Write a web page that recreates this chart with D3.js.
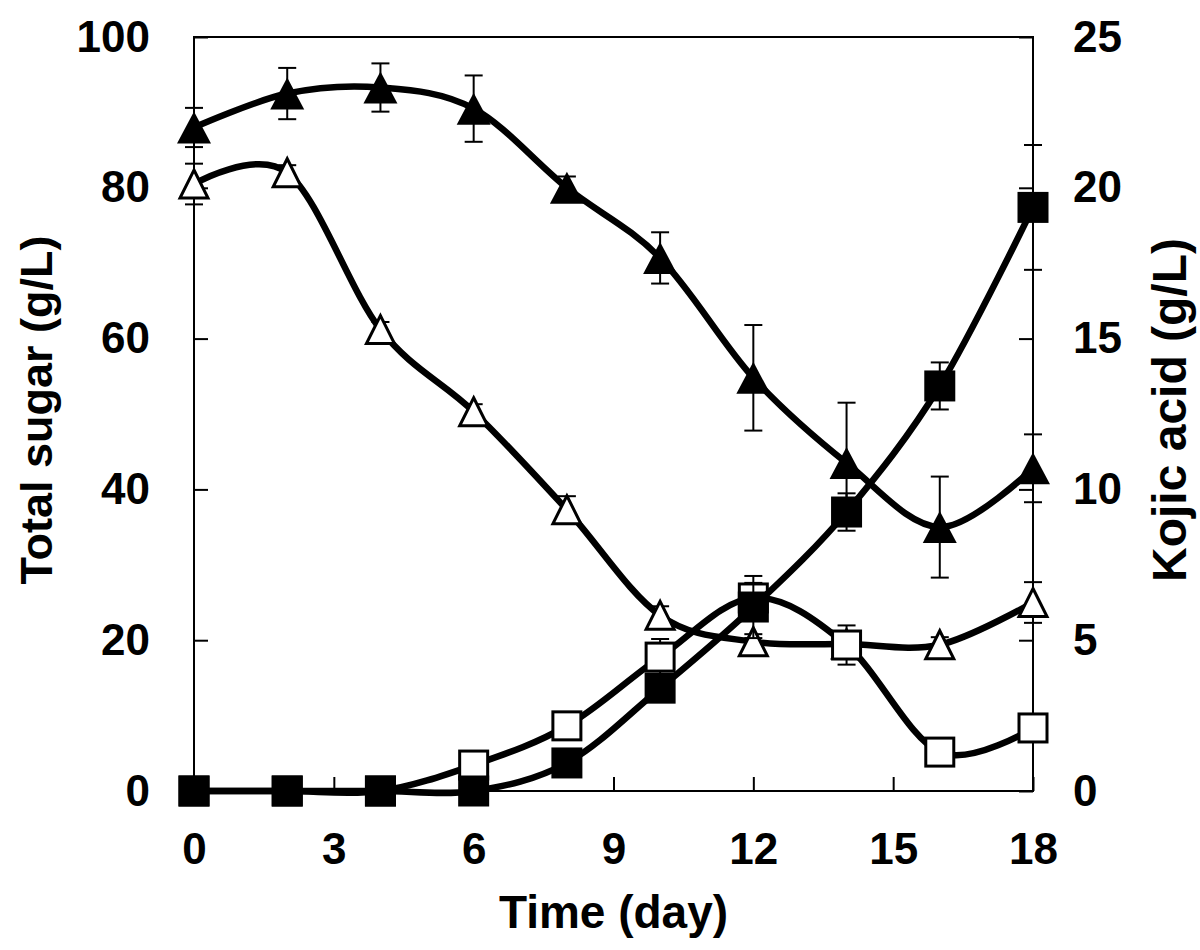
<!DOCTYPE html>
<html>
<head>
<meta charset="utf-8">
<script src="https://cdn.jsdelivr.net/npm/d3@7"></script>
<style>
  html, body { margin: 0; padding: 0; background: #fff; }
  svg { display: block; }
  text { font-family: "Liberation Sans", Arial, sans-serif; font-weight: bold; fill: #000; }
</style>
</head>
<body>
<svg id="chart" width="1200" height="950"></svg>
<script>
// ---- data ----
const days = [0, 2, 4, 6, 8, 10, 12, 14, 16, 18];
const sugarClosed    = [88.0, 92.5, 93.3, 90.5, 80.0, 70.7, 54.8, 43.5, 35.0, 42.8];
const sugarClosedErr = [2.6, 3.4, 3.2, 4.4, 1.5, 3.4, 7.0, 8.0, 6.7, 4.5];
const sugarOpen      = [80.5, 82.0, 61.2, 50.3, 37.3, 23.3, 19.8, 19.5, 19.4, 25.0];
const sugarOpenErr   = [2.7, 1.0, 1.0, 1.0, 1.8, 1.2, 1.0, 1.0, 1.0, 2.7];
const kojicClosed    = [0, 0, 0, 0, 0.93, 3.41, 6.1, 9.25, 13.43, 19.35];
const kojicClosedErr = [0, 0, 0, 0, 0.2, 0.3, 1.03, 0.62, 0.78, 2.07];
const kojicOpen      = [0, 0, 0, 0.86, 2.16, 4.44, 6.4, 4.84, 1.29, 2.09];
const kojicOpenErr   = [0, 0, 0, 0.2, 0.3, 0.6, 0.5, 0.65, 0.3, 0.3];
const xTicks = [0, 3, 6, 9, 12, 15, 18];
const yLeftTicks = [0, 20, 40, 60, 80, 100];
const yRightTicks = [0, 5, 10, 15, 20, 25];
const xTitle = "Time (day)";
const yLeftTitle = "Total sugar (g/L)";
const yRightTitle = "Kojic acid (g/L)";

// ---- layout ----
const L = 194, R = 1033, T = 37, B = 791;
const svg = d3.select("#chart");
const x = d3.scaleLinear().domain([0, 18]).range([L, R]);
const yL = d3.scaleLinear().domain([0, 100]).range([B, T]);
const yR = d3.scaleLinear().domain([0, 25]).range([B, T]);

// axes with inward ticks
const tickLen = 14;
const gx = svg.append("g").attr("transform", `translate(0,${B})`)
  .call(d3.axisBottom(x).tickValues(xTicks).tickSize(-tickLen).tickPadding(tickLen + 28));
const gl = svg.append("g").attr("transform", `translate(${L},0)`)
  .call(d3.axisLeft(yL).tickValues(yLeftTicks).tickSize(-tickLen).tickPadding(tickLen + 30));
const gr = svg.append("g").attr("transform", `translate(${R},0)`)
  .call(d3.axisRight(yR).tickValues(yRightTicks).tickSize(-tickLen).tickPadding(tickLen + 26));
[gx, gl, gr].forEach(g => {
  g.select(".domain").remove();
  g.selectAll(".tick line").attr("stroke", "#000").attr("stroke-width", 2);
  g.selectAll(".tick text").style("font-size", "44px").style("font-family", '"Liberation Sans", Arial, sans-serif')
    .style("font-weight", "bold").attr("fill", "#000");
});
gx.selectAll(".tick text").attr("dy", "0.71em");

// frame
svg.append("rect").attr("x", L).attr("y", T).attr("width", R - L).attr("height", B - T)
  .attr("fill", "none").attr("stroke", "#000").attr("stroke-width", 2);

// titles
svg.append("text").attr("x", (L + R) / 2).attr("y", 928).attr("text-anchor", "middle")
  .style("font-size", "46px").text(xTitle);
svg.append("text").attr("transform", `translate(52,410) rotate(-90)`)
  .attr("text-anchor", "middle").style("font-size", "45px").text(yLeftTitle);
svg.append("text").attr("transform", `translate(1186,410) rotate(-90)`)
  .attr("text-anchor", "middle").style("font-size", "48px").text(yRightTitle);

// ---- series ----
const line = (ys) => d3.line().curve(d3.curveCardinal.tension(0)).x(d => x(d.t)).y(d => ys(d.v));
function series(vals, errs, ys, shape, filled) {
  const data = days.map((t, i) => ({ t, v: vals[i], e: errs[i] }));
  const g = svg.append("g");
  g.append("path").datum(data).attr("d", line(ys)).attr("fill", "none")
    .attr("stroke", "#000").attr("stroke-width", 6.5).attr("stroke-linejoin", "round");
  const eb = g.selectAll(".eb").data(data.filter(d => d.e > 0)).join("g");
  eb.append("line").attr("x1", d => x(d.t)).attr("x2", d => x(d.t))
    .attr("y1", d => ys(d.v - d.e)).attr("y2", d => ys(d.v + d.e))
    .attr("stroke", "#000").attr("stroke-width", 2);
  [1, -1].forEach(s => {
    eb.append("line").attr("x1", d => x(d.t) - 9).attr("x2", d => x(d.t) + 9)
      .attr("y1", d => ys(d.v + s * d.e)).attr("y2", d => ys(d.v + s * d.e))
      .attr("stroke", "#000").attr("stroke-width", 2);
  });
  const m = g.selectAll(".m").data(data).join("g")
    .attr("transform", d => `translate(${x(d.t)},${ys(d.v)})`);
  if (shape === "tri") {
    const w = filled ? 17 : 14, h = filled ? 16 : 14;
    m.append("path").attr("d", `M0,${-h} L${w},${h} L${-w},${h} Z`)
      .attr("fill", filled ? "#000" : "#fff").attr("stroke", "#000")
      .attr("stroke-width", filled ? 0 : 3).attr("stroke-linejoin", "miter");
  } else {
    const s = filled ? 15.5 : 14;
    m.append("rect").attr("x", -s).attr("y", -s).attr("width", 2 * s).attr("height", 2 * s)
      .attr("fill", filled ? "#000" : "#fff").attr("stroke", "#000")
      .attr("stroke-width", filled ? 0 : 3);
  }
}
series(sugarOpen, sugarOpenErr, yL, "tri", false);
series(sugarClosed, sugarClosedErr, yL, "tri", true);
series(kojicOpen, kojicOpenErr, yR, "sq", false);
series(kojicClosed, kojicClosedErr, yR, "sq", true);
</script>
</body>
</html>
